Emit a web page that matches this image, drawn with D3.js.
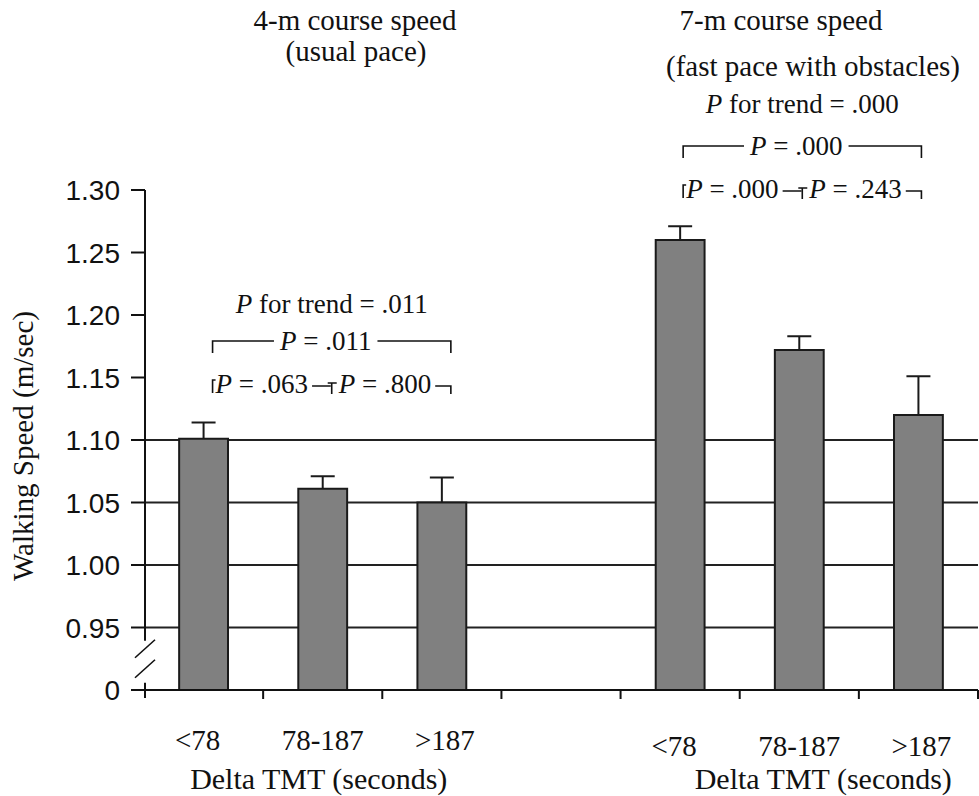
<!DOCTYPE html>
<html>
<head>
<meta charset="utf-8">
<script src="https://cdn.jsdelivr.net/npm/d3@7"></script>
<style>
  body { margin: 0; background: #fff; }
  svg text { fill: #111; }
</style>
</head>
<body>
<svg id="chart" width="979" height="796"></svg>
<script>
// ---- data ----
const categories = ["<78", "78-187", ">187"];
const groups = ["4-m", "7-m"];
const groupTitles = [
  ["4-m course speed", "(usual pace)"],
  ["7-m course speed", "(fast pace with obstacles)"]
];
const speed4m = [1.101, 1.061, 1.050];
const speed4mUpper = [1.114, 1.071, 1.070];
const speed7m = [1.260, 1.172, 1.120];
const speed7mUpper = [1.271, 1.183, 1.151];
const yTickValues = [0.90, 0.95, 1.00, 1.05, 1.10, 1.15, 1.20, 1.25, 1.30];
const yTickLabels = ["0", "0.95", "1.00", "1.05", "1.10", "1.15", "1.20", "1.25", "1.30"];
const gridValues = [0.95, 1.00, 1.05, 1.10];
const trendP = [".011", ".000"];
const overallP = [".011", ".000"];
const pairP = [[".063", ".800"], [".000", ".243"]];
const xTitle = "Delta TMT (seconds)";
const yTitle = "Walking Speed (m/sec)";

const serif = "'Liberation Serif', 'Times New Roman', serif";
const sans = "'Liberation Sans', Arial, sans-serif";

// ---- layout ----
const svg = d3.select("#chart");
const plot = { left: 145, right: 978, top: 190, bottom: 690 };

// one slot per bar, with an empty slot between the two walking tests
const slots = [];
groups.forEach((g, gi) => {
  if (gi > 0) slots.push("gap");
  categories.forEach(c => slots.push(g + "|" + c));
});

const x = d3.scaleBand().domain(slots).range([plot.left - 1, plot.right]).padding(0);
// broken axis: the bottom position stands for 0, the rest runs 0.95 – 1.30
const y = d3.scaleLinear().domain([0.90, 1.30]).range([plot.bottom, plot.top]);

const rows = [];
[[speed4m, speed4mUpper], [speed7m, speed7mUpper]].forEach(([vals, ups], gi) => {
  categories.forEach((c, ci) => {
    rows.push({ group: groups[gi], gi, cat: c, key: groups[gi] + "|" + c, value: vals[ci], upper: ups[ci] });
  });
});

const barW = x.bandwidth() * 0.41;
const cx = d => x(d.key) + x.bandwidth() / 2;

// ---- grid lines ----
svg.append("g").selectAll("line").data(gridValues).join("line")
  .attr("x1", plot.left).attr("x2", plot.right)
  .attr("y1", d => y(d)).attr("y2", d => y(d))
  .attr("stroke", "#222").attr("stroke-width", 1.8);

// ---- bars ----
svg.append("g").selectAll("rect").data(rows).join("rect")
  .attr("x", d => cx(d) - barW / 2)
  .attr("width", barW)
  .attr("y", d => y(d.value))
  .attr("height", d => y(0.90) - y(d.value))
  .attr("fill", "#808080")
  .attr("stroke", "#1a1a1a").attr("stroke-width", 2);

// ---- error bars ----
const eb = svg.append("g").attr("stroke", "#1a1a1a").attr("stroke-width", 2);
eb.selectAll("line.stem").data(rows).join("line").attr("class", "stem")
  .attr("x1", cx).attr("x2", cx)
  .attr("y1", d => y(d.value)).attr("y2", d => y(d.upper));
eb.selectAll("line.cap").data(rows).join("line").attr("class", "cap")
  .attr("x1", d => cx(d) - 12).attr("x2", d => cx(d) + 12)
  .attr("y1", d => y(d.upper)).attr("y2", d => y(d.upper));

// ---- x axis ----
const ax = svg.append("g").attr("stroke", "#111").attr("stroke-width", 2);
ax.append("line").attr("x1", plot.left - 13).attr("x2", plot.right)
  .attr("y1", plot.bottom).attr("y2", plot.bottom);
const boundaries = slots.map(s => x(s) + x.bandwidth());
ax.selectAll("line.xt").data(boundaries).join("line").attr("class", "xt")
  .attr("x1", d => d).attr("x2", d => d)
  .attr("y1", plot.bottom).attr("y2", plot.bottom + 9);

// ---- y axis (with break) ----
const breakMid = (y(0.95) + y(0.90)) / 2;
ax.append("line").attr("x1", plot.left).attr("x2", plot.left)
  .attr("y1", plot.top).attr("y2", breakMid - 18);
ax.append("line").attr("x1", plot.left).attr("x2", plot.left)
  .attr("y1", breakMid + 24).attr("y2", plot.bottom + 8);
ax.selectAll("line.brk").data([-10, 10]).join("line").attr("class", "brk")
  .attr("stroke-width", 1.6)
  .attr("x1", plot.left - 10).attr("x2", plot.left + 10)
  .attr("y1", d => breakMid + d + 9).attr("y2", d => breakMid + d - 9);
ax.selectAll("line.yt").data(yTickValues).join("line").attr("class", "yt")
  .attr("x1", plot.left - 14).attr("x2", plot.left)
  .attr("y1", d => y(d)).attr("y2", d => y(d));

svg.append("g").selectAll("text").data(yTickValues).join("text")
  .attr("x", plot.left - 25).attr("y", d => y(d)).attr("dy", "0.36em")
  .attr("text-anchor", "end")
  .style("font-family", sans).style("font-size", "28px")
  .text((d, i) => yTickLabels[i]);

// y title
svg.append("text")
  .attr("transform", `translate(33,${(plot.top + plot.bottom) / 2 + 6}) rotate(-90)`)
  .attr("text-anchor", "middle")
  .style("font-family", serif).style("font-size", "29px")
  .text(yTitle);

// ---- category labels & axis titles ----
const catBase = [750, 756];
svg.append("g").selectAll("text").data(rows).join("text")
  .attr("x", d => cx(d) - (d.cat === "<78" ? 6 : d.cat === ">187" ? -3 : 0))
  .attr("y", d => catBase[d.gi])
  .attr("text-anchor", "middle")
  .style("font-family", serif).style("font-size", "29px")
  .text(d => d.cat);

const groupCenter = gi => {
  const ks = categories.map(c => groups[gi] + "|" + c);
  return (x(ks[0]) + x(ks[2]) + x.bandwidth()) / 2;
};
groups.forEach((g, gi) => {
  svg.append("text")
    .attr("x", groupCenter(gi) + [-4, 24][gi]).attr("y", 789)
    .attr("text-anchor", "middle")
    .style("font-family", serif).style("font-size", "30px")
    .text(xTitle);
});

// ---- group titles ----
const titlePos = [
  { x1: 355, x2: 356, b1: 30, b2: 61 },
  { x1: 781, x2: 813, b1: 30, b2: 76 }
];
groupTitles.forEach((t, gi) => {
  const p = titlePos[gi];
  svg.append("text").attr("x", p.x1).attr("y", p.b1).attr("text-anchor", "middle")
    .style("font-family", serif).style("font-size", "29px").text(t[0]);
  svg.append("text").attr("x", p.x2).attr("y", p.b2).attr("text-anchor", "middle")
    .style("font-family", serif).style("font-size", "29px").text(t[1]);
});

// ---- significance annotations ----
const annot = [
  { off: 9, trend: 313, upper: 350, lower: 393 },
  { off: 3, trend: 113, upper: 155, lower: 198 }
];
const pFont = "27px";

function pText(g, xPos, yPos, value, anchor, prefix) {
  const t = g.append("text").attr("x", xPos).attr("y", yPos)
    .attr("text-anchor", anchor)
    .style("font-family", serif).style("font-size", pFont);
  t.append("tspan").style("font-style", "italic").text("P");
  t.append("tspan").text(prefix + value);
  return t;
}

groups.forEach((g, gi) => {
  const a = annot[gi];
  const gRows = rows.filter(r => r.gi === gi);
  const xs = gRows.map(r => cx(r) + a.off);
  const x1 = xs[0], xm = xs[1], x2 = xs[2];
  const ga = svg.append("g");
  const ln = ga.append("g").attr("stroke", "#111").attr("stroke-width", 1.6).attr("fill", "none");

  // trend
  pText(ga, (x1 + x2) / 2, a.trend, trendP[gi], "middle", " for trend = ");

  // overall comparison bracket
  const tOver = pText(ga, (x1 + x2) / 2 - 6, a.upper, overallP[gi], "middle", " = ");
  const wOver = tOver.node().getComputedTextLength();
  const ly = a.upper - 9;
  const tx0 = (x1 + x2) / 2 - 6 - wOver / 2, tx1 = (x1 + x2) / 2 - 6 + wOver / 2;
  ln.append("path").attr("d", `M${x1},${ly + 12}V${ly}H${tx0 - 6}`);
  ln.append("path").attr("d", `M${tx1 + 6},${ly}H${x2}V${ly + 12}`);

  // pairwise brackets
  const by = a.lower - 13;
  const t1 = pText(ga, x1 + 3, a.lower, pairP[gi][0], "start", " = ");
  const w1 = t1.node().getComputedTextLength();
  const t2 = pText(ga, xm + 7, a.lower, pairP[gi][1], "start", " = ");
  const w2 = t2.node().getComputedTextLength();
  ln.append("path").attr("d", `M${x1},${by + 13}V${by}H${x1 + 3}`);
  ln.append("path").attr("d", `M${x1 + 3 + w1 + 4},${by + 6}H${xm - 1}M${xm - 4},${by + 3}H${xm + 5}M${xm},${by + 3}V${by + 14}`);
  ln.append("path").attr("d", `M${xm + 7 + w2 + 4},${by + 6}H${x2}V${by + 14}`);
});
</script>
</body>
</html>
